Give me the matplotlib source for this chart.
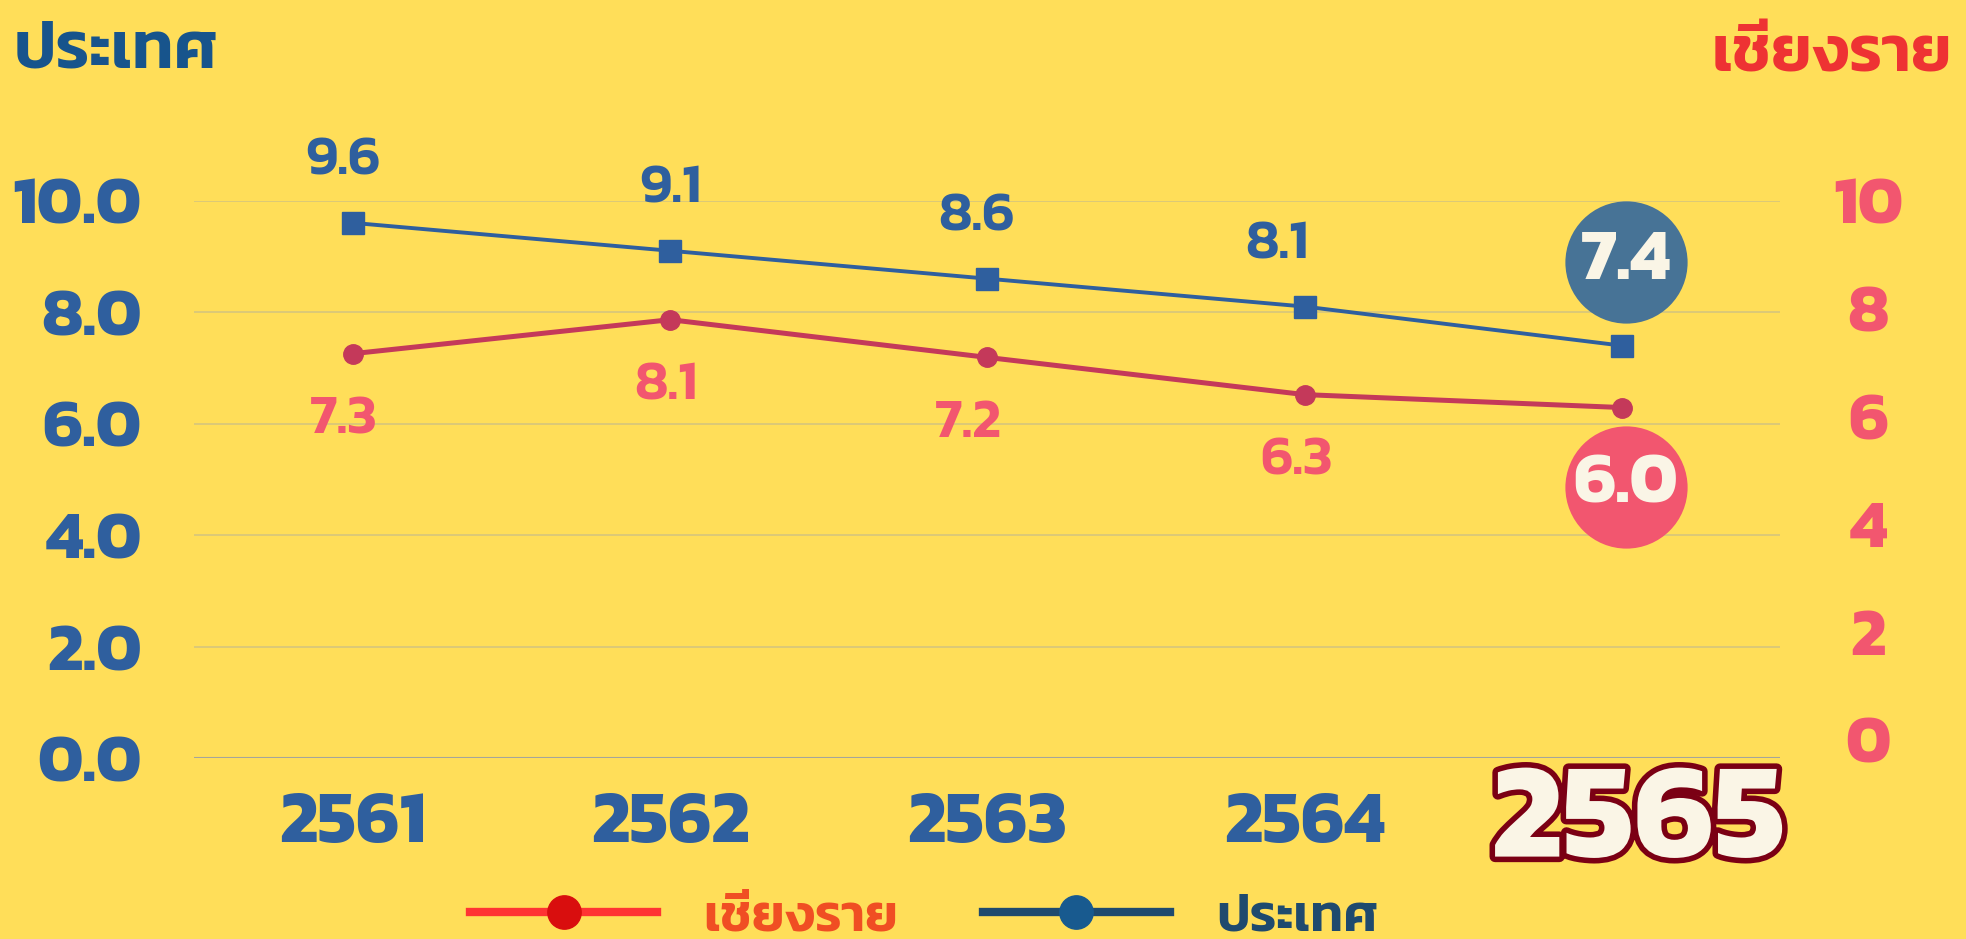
import matplotlib
matplotlib.use('Agg')
import matplotlib.pyplot as plt
import matplotlib.patheffects as pe
from matplotlib.lines import Line2D
from matplotlib.transforms import offset_copy

# ข้อมูล
years = ['2561', '2562', '2563', '2564', '2565']
country_values = [9.6, 9.1, 8.6, 8.1, 7.4]
chiangrai_values = [7.16, 7.79, 7.09, 6.40, 6.16]
chiangrai_labels = ['7.3', '8.1', '7.2', '6.3', '6.0']
left_ticks = [0, 2, 4, 6, 8, 10]
right_ticks = [0, 2, 4, 6, 8, 10]

# เลื่อนป้ายค่าเล็กน้อย (หน่วย points)
country_dx = [-7, 0, -8, -20]
chiangrai_dx = [-7, -3, -14, -6]

bg = '#FFDE59'
blue = '#2F5F9E'
red_line = '#C4395A'
pink = '#F2566F'
cream = '#FAF5E6'
font = 'Kanit'

plt.rcParams['font.family'] = [font, 'DejaVu Sans']

fig = plt.figure(figsize=(19.66, 9.39), dpi=100, facecolor=bg)
ax = fig.add_axes([0.0989, 0.1923, 0.8067, 0.5941])
ax.set_facecolor(bg)
ax2 = ax.twinx()

x = list(range(len(years)))

# เส้นประเทศ (แกนซ้าย)
ax.plot(x, country_values, color=blue, lw=2.8, marker='s', ms=16, zorder=5)
ax.set_ylim(0, 10)
ax.set_xlim(-0.5, 4.5)
ax.set_yticks(left_ticks)
ax.set_yticklabels([f'{t:.1f}' for t in left_ticks])
ax.grid(axis='y', color='#D6C57C', lw=1.2)
ax.set_axisbelow(True)
ax.axhline(0, color='#A5A59A', lw=1.5, zorder=1)
ax.tick_params(axis='y', length=0, pad=38, labelsize=49, labelcolor=blue)
for lbl in ax.get_yticklabels():
    lbl.set_fontweight('bold')

# เส้นเชียงราย (แกนขวา)
ax2.plot(x, chiangrai_values, color=red_line, lw=3.6, marker='o', ms=14, zorder=5)
ax2.set_ylim(-0.35, 10)
ax2.set_yticks(right_ticks)
ax2.set_yticklabels([str(t) for t in right_ticks])
ax2.tick_params(axis='y', length=0, pad=63, labelsize=49, labelcolor=pink)
for lbl in ax2.get_yticklabels():
    lbl.set_fontweight('bold')
    lbl.set_horizontalalignment('center')

for a in (ax, ax2):
    for s in a.spines.values():
        s.set_visible(False)

# แกน x (ปีล่าสุดเขียนแยกด้านล่าง)
ax.set_xticks(x)
ax.set_xticklabels(years[:-1] + [''])
ax.tick_params(axis='x', length=0, pad=24, labelsize=53, labelcolor=blue)
for lbl in ax.get_xticklabels():
    lbl.set_fontweight('bold')
ax.annotate(years[-1], (x[-1], 0), xytext=(12, -48), textcoords='offset points',
            ha='center', va='center', fontsize=98, fontweight='bold', color=cream,
            path_effects=[pe.Stroke(linewidth=8, foreground='#7B0014'), pe.Normal()],
            bbox=dict(facecolor=bg, edgecolor='none', pad=1), annotation_clip=False, zorder=8)

# ป้ายค่าข้อมูล
for i in range(len(years) - 1):
    ax.annotate(f'{country_values[i]:.1f}', (x[i], country_values[i]),
                xytext=(country_dx[i], 44), textcoords='offset points', ha='center', va='center',
                fontsize=40, fontweight='semibold', color=blue, zorder=6)
    ax2.annotate(chiangrai_labels[i], (x[i], chiangrai_values[i]),
                 xytext=(chiangrai_dx[i], -48), textcoords='offset points', ha='center', va='center',
                 fontsize=40, fontweight='semibold', color=pink, zorder=6)

# ปีล่าสุด ใส่วงกลม
blue_off = offset_copy(ax.transData, fig=fig, x=3, y=60, units='points')
ax.scatter([x[-1]], [country_values[-1]], s=88 ** 2, color='#477396', lw=0,
           transform=blue_off, zorder=7, clip_on=False)
ax.annotate(f'{country_values[-1]:.1f}', (x[-1], country_values[-1]), xytext=(3, 60),
            textcoords='offset points', ha='center', va='center',
            fontsize=52, fontweight='bold', color=cream, zorder=8)
pink_off = offset_copy(ax2.transData, fig=fig, x=3, y=-57, units='points')
ax2.scatter([x[-1]], [chiangrai_values[-1]], s=88 ** 2, color=pink, lw=0,
            transform=pink_off, zorder=7, clip_on=False)
ax2.annotate(chiangrai_labels[-1], (x[-1], chiangrai_values[-1]), xytext=(3, -57),
             textcoords='offset points', ha='center', va='center',
             fontsize=52, fontweight='bold', color=cream, zorder=8)

# หัวข้อแกน
fig.text(0.007, 0.945, 'ประเทศ', ha='left', va='center', fontsize=48,
         fontweight='semibold', color='#17548C')
fig.text(0.993, 0.940, 'เชียงราย', ha='right', va='center', fontsize=47,
         fontweight='semibold', color='#EE3233')

# คำอธิบาย
handles = [Line2D([0], [0], color='#FF3333', lw=6, marker='o', ms=24,
                  markerfacecolor='#D90E0E', markeredgecolor='#D90E0E'),
           Line2D([0], [0], color='#1F4A6E', lw=6, marker='o', ms=24,
                  markerfacecolor='#185A8F', markeredgecolor='#185A8F')]
leg = fig.legend(handles, ['เชียงราย', 'ประเทศ'], loc='center', bbox_to_anchor=(0.470, 0.022),
                 ncol=2, frameon=False, fontsize=38, handlelength=3.55, columnspacing=1.6,
                 handletextpad=0.87)
for t, c in zip(leg.get_texts(), ['#F04E23', '#1F4A6E']):
    t.set_color(c)
    t.set_fontweight('semibold')

fig.savefig('out.png', dpi=100, facecolor=bg)
